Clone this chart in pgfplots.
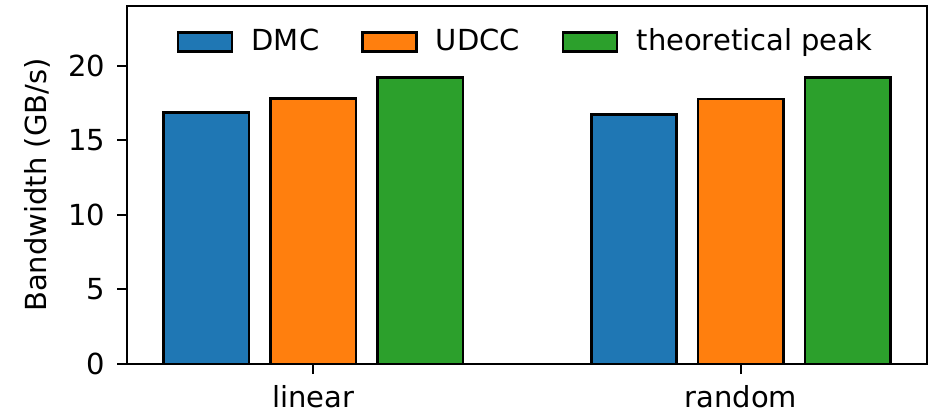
\documentclass[border=0pt]{standalone}
\usepackage{fontspec}
\setmainfont{DejaVu Sans}
\usepackage{pgfplots}
\pgfplotsset{compat=1.18}
\definecolor{tabblue}{HTML}{1F77B4}
\definecolor{taborange}{HTML}{FF7F0E}
\definecolor{tabgreen}{HTML}{2CA02C}
\newcommand{\fs}{\fontsize{8.7}{10.4}\selectfont}
\begin{document}
\begin{tikzpicture}
\begin{axis}[
  scale only axis,
  width=240pt, height=107.4pt,
  xmin=-0.435, xmax=1.435,
  ymin=0, ymax=24,
  xtick={0,1}, xticklabels={linear,random},
  ytick={0,5,10,15,20},
  tick align=outside,
  xtick pos=bottom, ytick pos=left,
  major tick length=3pt,
  axis line style={line width=0.6pt},
  tick style={line width=0.6pt, black},
  /pgf/number format/assume math mode=true,
  ticklabel style={font=\fs},
  label style={font=\fs},
  ylabel={Bandwidth (GB/s)},
  ylabel style={yshift=-1.5pt},
  legend columns=-1,
  legend style={draw=none, fill=none, font=\fs, at={(0.5,0.9)}, anchor=center,
    /tikz/every even column/.append style={column sep=11pt},
    /tikz/every odd column/.append style={column sep=4pt},
    nodes={inner sep=1.5pt}},
  legend image code/.code={\draw[#1,draw=black,line width=0.8pt] (0pt,-2.85pt) rectangle (16.2pt,2.85pt);},
]
\addplot[ybar, bar width=0.2, bar shift=-0.25, fill=tabblue, draw=black, line width=0.8pt] coordinates {(0,16.85) (1,16.72)};
\addlegendentry{DMC}
\addplot[ybar, bar width=0.2, bar shift=0, fill=taborange, draw=black, line width=0.8pt] coordinates {(0,17.82) (1,17.76)};
\addlegendentry{UDCC}
\addplot[ybar, bar width=0.2, bar shift=0.25, fill=tabgreen, draw=black, line width=0.8pt] coordinates {(0,19.2) (1,19.2)};
\addlegendentry{theoretical peak}
\end{axis}
\path ([xshift=-38.1pt,yshift=-15pt]current axis.south west) rectangle ([xshift=4.8pt,yshift=1.8pt]current axis.north east);
\end{tikzpicture}
\end{document}
